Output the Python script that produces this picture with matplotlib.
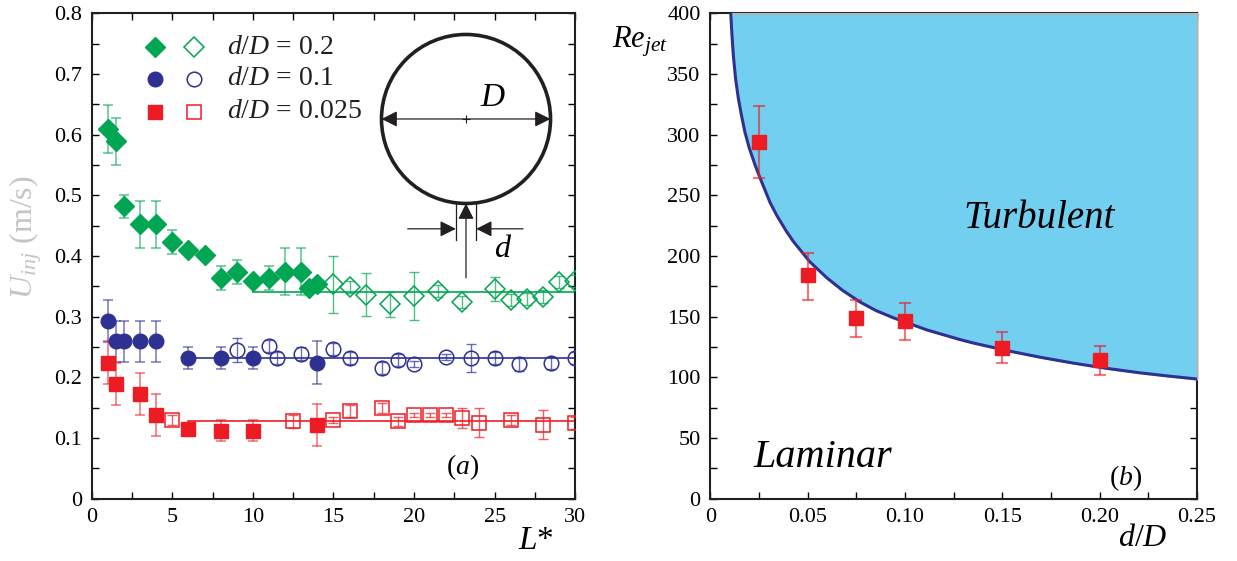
import matplotlib.pyplot as plt
from matplotlib.patches import Circle
from matplotlib.ticker import MultipleLocator

plt.rcParams['font.family'] = 'serif'
plt.rcParams['font.serif'] = ['Liberation Serif', 'DejaVu Serif']
plt.rcParams['mathtext.fontset'] = 'custom'
plt.rcParams['mathtext.rm'] = 'Liberation Serif'
plt.rcParams['mathtext.it'] = 'Liberation Serif:italic'

# ---- panel (a) data ----
# d/D = 0.2
g_fill_x = [1, 1.5, 2, 3, 4, 5, 6, 7, 8, 9, 10, 11, 12, 13, 13.5, 14]
g_fill_y = [0.609, 0.589, 0.482, 0.452, 0.452, 0.423, 0.409, 0.402, 0.363, 0.374, 0.358, 0.363, 0.374, 0.374, 0.347, 0.353]
g_fill_e = [0.039, 0.039, 0.019, 0.039, 0.039, 0.02, 0, 0, 0.02, 0.02, 0, 0.02, 0.039, 0.039, 0, 0]
g_open_x = [15, 16, 17, 18.5, 20, 21.5, 23, 25, 26, 27, 28, 29, 30]
g_open_y = [0.353, 0.349, 0.336, 0.320, 0.334, 0.342, 0.324, 0.346, 0.327, 0.329, 0.333, 0.357, 0.358]
g_open_e = [0.047, 0.01, 0.035, 0.02, 0.04, 0.01, 0.01, 0.02, 0.01, 0.01, 0.01, 0.01, 0.01]
g_mean = 0.341
g_span = [10, 30]

# d/D = 0.1
b_fill_x = [1, 1.5, 2, 3, 4, 6, 8, 10, 14]
b_fill_y = [0.293, 0.259, 0.259, 0.259, 0.259, 0.232, 0.232, 0.232, 0.224]
b_fill_e = [0.035, 0.034, 0.034, 0.034, 0.034, 0.018, 0.018, 0.018, 0.035]
b_open_x = [9, 11, 11.5, 13, 15, 16, 18, 19, 20, 22, 23.5, 25, 26.5, 28.5, 30]
b_open_y = [0.245, 0.251, 0.232, 0.239, 0.247, 0.231, 0.215, 0.228, 0.222, 0.233, 0.232, 0.232, 0.221, 0.224, 0.232]
b_open_e = [0.02, 0.01, 0.01, 0.01, 0.01, 0.01, 0.01, 0.01, 0.005, 0.005, 0.023, 0.01, 0.01, 0.01, 0.01]
b_mean = 0.232
b_span = [6, 30]

# d/D = 0.025
r_fill_x = [1, 1.5, 3, 4, 6, 8, 10, 14]
r_fill_y = [0.224, 0.189, 0.172, 0.138, 0.115, 0.112, 0.112, 0.121]
r_fill_e = [0.035, 0.035, 0.035, 0.035, 0, 0.018, 0.018, 0.035]
r_open_x = [5, 12.5, 15, 16, 18, 19, 20, 21, 22, 23, 24, 26, 28, 30]
r_open_y = [0.130, 0.127, 0.130, 0.144, 0.149, 0.127, 0.138, 0.138, 0.138, 0.133, 0.125, 0.129, 0.122, 0.125]
r_open_e = [0.008, 0.01, 0.005, 0.01, 0.008, 0.008, 0.003, 0.003, 0.003, 0.017, 0.024, 0.008, 0.024, 0.01]
r_mean = 0.127
r_span = [6, 30]

a_xticks = [0, 5, 10, 15, 20, 25, 30]
a_yticks = [0, 0.1, 0.2, 0.3, 0.4, 0.5, 0.6, 0.7, 0.8]
a_yticklabels = ['0', '0.1', '0.2', '0.3', '0.4', '0.5', '0.6', '0.7', '0.8']
labels = ['$d/D\\,=\\,0.2$', '$d/D\\,=\\,0.1$', '$d/D\\,=\\,0.025$']

# ---- panel (b) data ----
dD = [0.025, 0.05, 0.075, 0.1, 0.15, 0.2]
re_jet = [294, 184, 149, 146, 124, 114]
re_lo = [29.6, 20, 15.5, 15, 12.5, 12]
re_hi = [29.6, 18, 15, 15, 13.5, 12]
# laminar/turbulent boundary
curve_x = [0.0105, 0.0111, 0.0118, 0.0130, 0.0144, 0.0160, 0.0178, 0.0200, 0.0230, 0.0255,
           0.0307, 0.0341, 0.0390, 0.0426, 0.0512, 0.0598, 0.0680, 0.0769, 0.0850, 0.0940,
           0.1112, 0.1283, 0.1351, 0.1522, 0.1693, 0.1865, 0.2036, 0.2207, 0.2350, 0.25]
curve_y = [400, 383, 366, 346, 330, 316, 302, 289, 275, 264.5,
           244, 233.5, 220.5, 212, 195, 182, 171.5, 162, 155, 149,
           139, 131, 128.2, 122, 116.5, 111.6, 107.3, 103.6, 101, 98.5]
b_xticks = [0, 0.05, 0.10, 0.15, 0.20, 0.25]
b_xticklabels = ['0', '0.05', '0.10', '0.15', '0.20', '0.25']
b_yticks = [0, 50, 100, 150, 200, 250, 300, 350, 400]

green = '#00A651'
blue = '#2E3192'
red = '#ED1C24'
sky = '#72CFEF'


def style(ax):
    for s in ax.spines.values():
        s.set_linewidth(1.5)
        s.set_color('#231F20')
    ax.tick_params(which='both', direction='in', top=True, right=True,
                   length=5, width=1, labelsize=16, pad=7)
    for lab in ax.get_xticklabels() + ax.get_yticklabels():
        lab.set_fontfamily('Liberation Serif')


fig = plt.figure(figsize=(12.37, 5.61), dpi=100)
ax1 = fig.add_axes([0.0741, 0.1114, 0.391, 0.8649])
ax2 = fig.add_axes([0.5742, 0.1114, 0.3935, 0.8649])

# ---------- (a) ----------
groups = [
    (g_fill_x, g_fill_y, g_fill_e, g_open_x, g_open_y, g_open_e, g_mean, g_span, green, 'D', 10),
    (b_fill_x, b_fill_y, b_fill_e, b_open_x, b_open_y, b_open_e, b_mean, b_span, blue, 'o', 10.5),
    (r_fill_x, r_fill_y, r_fill_e, r_open_x, r_open_y, r_open_e, r_mean, r_span, red, 's', 9.5),
]
for fx, fy, fe, ox, oy, oe, m, span, c, mk, ms in groups:
    ax1.plot(span, [m, m], color=c, lw=1.2, zorder=2)
    ax1.errorbar(fx, fy, yerr=fe, fmt='none', ecolor=c, alpha=0.6, capsize=3.5, elinewidth=1.2, capthick=1.2, zorder=3)
    ax1.errorbar(ox, oy, yerr=oe, fmt='none', ecolor=c, alpha=0.7, capsize=3.5, elinewidth=1.0, capthick=1.0, zorder=3)
    ax1.plot(fx, fy, mk, ms=ms, color=c, mec=c, zorder=4)
    ax1.plot(ox, oy, mk, ms=ms, mfc='none', mec=c, mew=1.1, zorder=4)

ax1.set_xlim(0, 30)
ax1.set_ylim(0, 0.8)
ax1.set_xticks(a_xticks)
ax1.set_yticks(a_yticks)
ax1.set_yticklabels(a_yticklabels)
ax1.xaxis.set_minor_locator(MultipleLocator(2.5))
ax1.yaxis.set_minor_locator(MultipleLocator(0.05))
style(ax1)

# legend drawn by hand (filled + open symbol pairs)
leg_y = [0.9305, 0.8646, 0.7966]
for (_, _, _, _, _, _, _, _, c, mk, ms), ly, lab in zip(groups, leg_y, labels):
    ax1.plot([0.131], [ly], mk, ms=ms, color=c, transform=ax1.transAxes, clip_on=False)
    ax1.plot([0.2115], [ly], mk, ms=ms, mfc='none', mec=c, mew=1.1, transform=ax1.transAxes, clip_on=False)
    ax1.text(0.279, ly, lab, transform=ax1.transAxes, fontsize=20, va='center', ha='left', color='#231F20')

ax1.text(23, 0.051, '($a$)', fontsize=20, ha='center', va='center')
fig.text(536 / 1237, 1 - 541 / 561, '$L$*', fontsize=24, ha='center', va='center')
fig.text(26 / 1237, 1 - 237 / 561, '$U_{inj}$ (m/s)', fontsize=23, rotation=90,
         ha='center', va='center', color='#c4c4c4')

# schematic of the pipe cross-section (unit radius, equal aspect inset)
axc = fig.add_axes([371 / 1237, (561 - 284) / 561, 190 / 1237, 260 / 561])
axc.set_xlim(-1.124, 1.124)
axc.set_ylim(-1.953, 1.124)
axc.axis('off')
axc.patch.set_visible(False)
axc.add_patch(Circle((0, 0), 1, fill=False, lw=2.6, color='#231F20'))
arr = dict(color='#231F20', lw=0.9, mutation_scale=24, shrinkA=0, shrinkB=0)
axc.annotate('', xy=(-1, 0), xytext=(1, 0), arrowprops=dict(arrowstyle='<|-|>', **arr))
axc.plot([0], [0], '+', ms=6, mew=0.8, color='#231F20')
axc.text(0.32, 0.25, '$D$', fontsize=24, ha='center', va='center')
for sx in (-0.12, 0.12):
    axc.plot([sx, sx], [-0.99, -1.43], color='#231F20', lw=0.9)
axc.annotate('', xy=(0, -1.0), xytext=(0, -1.88), arrowprops=dict(arrowstyle='-|>', **arr))
axc.annotate('', xy=(-0.12, -1.30), xytext=(-0.69, -1.30), arrowprops=dict(arrowstyle='-|>', **arr))
axc.annotate('', xy=(0.12, -1.30), xytext=(0.675, -1.30), arrowprops=dict(arrowstyle='-|>', **arr))
axc.text(0.44, -1.55, '$d$', fontsize=23, ha='center', va='center')

# ---------- (b) ----------
ax2.fill_between(curve_x, curve_y, 400, color=sky, ec='#b4b4b4', lw=1.3, zorder=3, clip_on=False)
ax2.plot(curve_x, curve_y, color=blue, lw=2.2, zorder=4, solid_joinstyle='round')
ax2.errorbar(dD, re_jet, yerr=[re_lo, re_hi], fmt='none', ecolor=red, alpha=0.6,
             capsize=4, elinewidth=1.5, capthick=1.5, zorder=5)
ax2.plot(dD, re_jet, 's', ms=10, color=red, zorder=6)
ax2.set_xlim(0, 0.25)
ax2.set_ylim(0, 400)
ax2.set_xticks(b_xticks)
ax2.set_xticklabels(b_xticklabels)
ax2.set_yticks(b_yticks)
ax2.xaxis.set_minor_locator(MultipleLocator(0.025))
ax2.yaxis.set_minor_locator(MultipleLocator(25))
style(ax2)

ax2.text(0.13, 231, 'Turbulent', fontsize=28, style='italic', ha='left', va='center')
ax2.text(0.0224, 33.4, 'Laminar', fontsize=29, style='italic', ha='left', va='center')
ax2.text(0.2135, 17, '($b$)', fontsize=20, ha='center', va='center')
fig.text(612 / 1237, 1 - 42 / 561, '$Re_{jet}$', fontsize=22, ha='left', va='center')
fig.text(1143 / 1237, 1 - 538 / 561, '$d/D$', fontsize=23, ha='center', va='center')

fig.savefig('out.png', dpi=100)
